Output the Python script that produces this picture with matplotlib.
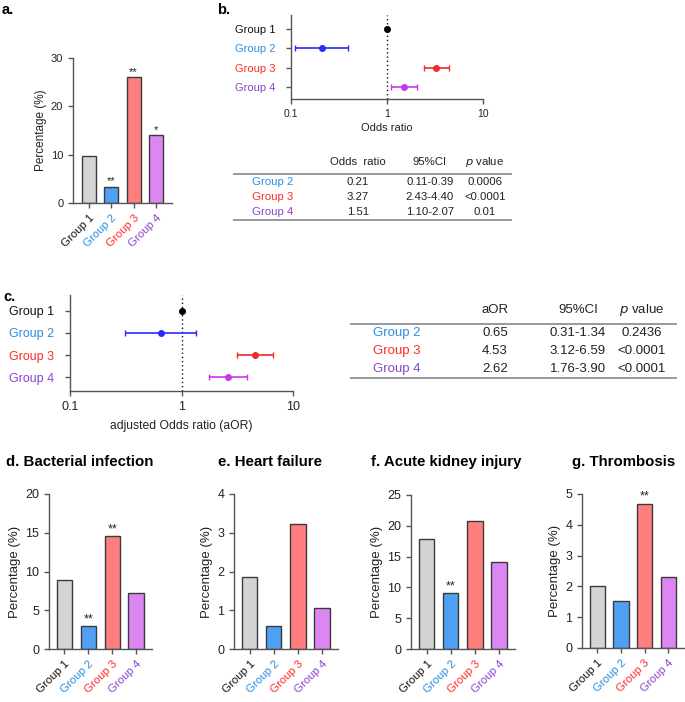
"""Group comparison figure: percentage bars, odds-ratio forest plots and tables."""
import matplotlib
matplotlib.use("Agg")
import matplotlib.pyplot as plt
from matplotlib.lines import Line2D

plt.rcParams["font.family"] = ["Liberation Sans", "DejaVu Sans"]

W, H = 685, 702

groups = ["Group 1", "Group 2", "Group 3", "Group 4"]
label_colors = ["#111111", "#2a8ee0", "#ff2a2a", "#8a46c8"]
bar_colors = ["#d4d4d4", "#4f9ff2", "#ff7f7f", "#dc86f2"]
point_colors = ["#000000", "#2a2aff", "#f02a2a", "#cc33ee"]

# panel a
pct_all = [9.7, 3.3, 26.0, 14.0]
stars_all = ["", "**", "**", "*"]

# panel b: crude odds ratios (group 1 = reference)
or_b = [1.0, 0.21, 3.27, 1.51]
lo_b = [1.0, 0.11, 2.43, 1.10]
hi_b = [1.0, 0.39, 4.40, 2.07]
tab_b_head = ["Odds  ratio", "95%CI", "value"]
tab_b_rows = [["0.21", "0.11-0.39", "0.0006"],
              ["3.27", "2.43-4.40", "<0.0001"],
              ["1.51", "1.10-2.07", "0.01"]]

# panel c: adjusted odds ratios
or_c = [1.0, 0.65, 4.53, 2.62]
lo_c = [1.0, 0.31, 3.12, 1.76]
hi_c = [1.0, 1.34, 6.59, 3.90]
tab_c_head = ["aOR", "95%CI", "value"]
tab_c_rows = [["0.65", "0.31-1.34", "0.2436"],
              ["4.53", "3.12-6.59", "<0.0001"],
              ["2.62", "1.76-3.90", "<0.0001"]]

# panels d-g
titles = ["d. Bacterial infection", "e. Heart failure",
          "f. Acute kidney injury", "g. Thrombosis"]
pct_d = [8.9, 3.0, 14.6, 7.2]
pct_e = [1.86, 0.6, 3.22, 1.07]
pct_f = [17.8, 9.1, 20.7, 14.2]
pct_g = [2.02, 1.53, 4.69, 2.31]
stars_d = ["", "**", "**", ""]
stars_e = ["", "", "", ""]
stars_f = ["", "**", "", ""]
stars_g = ["", "", "**", ""]

SPINE = "#555555"


def px_axes(fig, left, top, right, bottom):
    return fig.add_axes([left / W, 1 - bottom / H, (right - left) / W, (bottom - top) / H])


def style(ax, fs):
    for s in ("top", "right"):
        ax.spines[s].set_visible(False)
    for s in ("left", "bottom"):
        ax.spines[s].set_color(SPINE)
        ax.spines[s].set_linewidth(1.0)
    ax.tick_params(colors=SPINE, labelcolor="#222222", width=1.0, length=3.5,
                   labelsize=fs)


def bar_panel(fig, box, vals, stars, ymax, step, xlim, fs):
    ax = px_axes(fig, *box)
    style(ax, fs)
    x = range(len(groups))
    ax.bar(x, vals, width=0.64, color=bar_colors, edgecolor="#3a3a3a", linewidth=1.0,
           zorder=2)
    for xi, v, s in zip(x, vals, stars):
        if s:
            ax.text(xi, v + ymax * 0.005, s, ha="center", va="bottom", fontsize=fs,
                    color="#222222")
    ax.set_ylim(0, ymax)
    ax.set_yticks([i * step for i in range(int(round(ymax / step)) + 1)])
    ax.set_xlim(*xlim)
    ax.set_xticks(list(x))
    ax.set_xticklabels(groups, rotation=45, ha="right", va="top",
                       rotation_mode="anchor", fontsize=8.2)
    for lab, c in zip(ax.get_xticklabels(), label_colors):
        lab.set_color(c)
    ax.set_ylabel("Percentage (%)", fontsize=fs + 0.5, color="#222222", labelpad=3)
    return ax


def forest(fig, box, ors, los, his, xlabel, fs, tfs, xfs, pad):
    ax = px_axes(fig, *box)
    style(ax, tfs)
    ax.set_xscale("log")
    ax.set_xlim(0.1, 10)
    ax.set_xticks([0.1, 1, 10])
    ax.set_xticklabels(["0.1", "1", "10"])
    ax.xaxis.set_minor_locator(matplotlib.ticker.NullLocator())
    y = list(range(len(groups)))
    ax.set_ylim(3.63, -0.72)
    ax.axvline(1, color="#111111", linestyle=(0, (1, 2)), linewidth=1.0, zorder=1)
    for yi, o, lo, hi, c in zip(y, ors, los, his, point_colors):
        ax.errorbar(o, yi, xerr=[[o - lo], [hi - o]], fmt="o", color=c, ms=4,
                    capsize=2.5, elinewidth=1.2, capthick=1.0, zorder=3)
    ax.set_yticks(y)
    ax.set_yticklabels(groups, fontsize=fs)
    for lab, c in zip(ax.get_yticklabels(), label_colors):
        lab.set_color(c)
    ax.tick_params(axis="y", pad=8)
    ax.set_xlabel(xlabel, fontsize=xfs, color="#222222", labelpad=pad)
    return ax


def table(fig, box, head, rows, cols, head_y, row_y, line_y, fs):
    left, top, right, bottom = box
    ax = px_axes(fig, *box)
    ax.set_xlim(left, right)
    ax.set_ylim(bottom, top)
    ax.axis("off")
    for xc, h in zip(cols[1:], head):
        if h == "value":
            ax.text(xc, head_y, r"$\it{p}$ value", ha="center", va="center",
                    fontsize=fs, color="#222222")
        else:
            ax.text(xc, head_y, h, ha="center", va="center", fontsize=fs,
                    color="#222222")
    for ry, g, c, r in zip(row_y, groups[1:], label_colors[1:], rows):
        ax.text(cols[0], ry, g, ha="center", va="center", fontsize=fs, color=c)
        for xc, v in zip(cols[1:], r):
            ax.text(xc, ry, v, ha="center", va="center", fontsize=fs, color="#222222")
    for ly in line_y:
        ax.add_line(Line2D([left, right], [ly, ly], color="#888888", linewidth=1.2))
    return ax


fig = plt.figure(figsize=(W / 100, H / 100), dpi=100)

# a
bar_panel(fig, (73, 58, 172, 203), pct_all, stars_all, 30, 10, (-0.72, 3.72), 8)
fig.text(2 / W, 1 - 10 / H, "a.", fontsize=10.5, fontweight="bold", va="center")

# b
forest(fig, (291, 15, 483, 99), or_b, lo_b, hi_b, "Odds ratio", 8, 7.5, 8, 3)
fig.text(217 / W, 1 - 10 / H, "b.", fontsize=10.5, fontweight="bold", va="center")
table(fig, (233, 152, 512, 224), tab_b_head, tab_b_rows, [273, 358, 430, 485],
      162, [182, 197, 212], [174, 220], 8.2)

# c
forest(fig, (70, 295, 293, 391), or_c, lo_c, hi_c, "adjusted Odds ratio (aOR)",
       9, 9, 8.7, 5)
fig.text(3 / W, 1 - 297 / H, "c.", fontsize=10.5, fontweight="bold", va="center")
table(fig, (350, 300, 677, 382), tab_c_head, tab_c_rows, [397, 495, 578, 642],
      310, [333, 351, 369], [324, 378], 9.5)

# d-g
boxes = [(49, 494, 152, 649), (234, 494, 338, 649), (411, 495, 515, 649),
         (582, 494, 684, 648)]
series = [(pct_d, stars_d, 20, 5), (pct_e, stars_e, 4, 1),
          (pct_f, stars_f, 25, 5), (pct_g, stars_g, 5, 1)]
title_x = [6, 218, 371, 572]
for box, (vals, st, ymax, step), t, tx in zip(boxes, series, titles, title_x):
    bar_panel(fig, box, vals, st, ymax, step, (-0.65, 3.67), 9)
    fig.text(tx / W, 1 - 462 / H, t, fontsize=10.8, fontweight="bold", va="center")

fig.savefig("out.png", dpi=100)
